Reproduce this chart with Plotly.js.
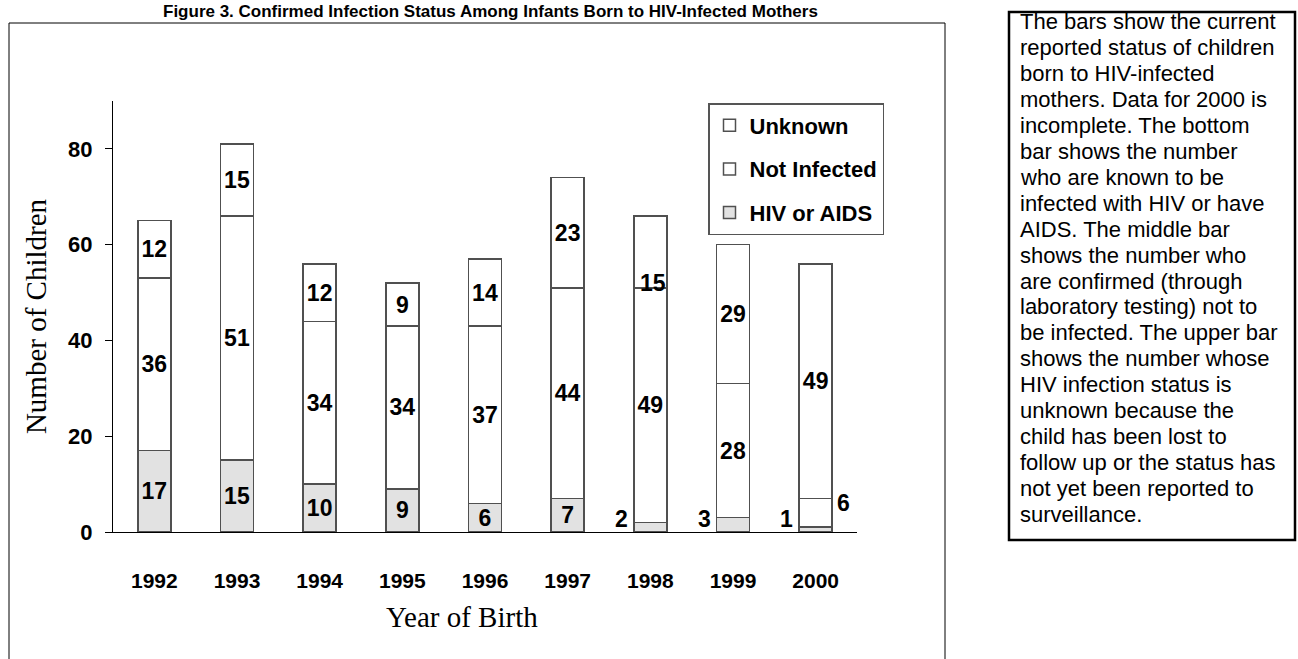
<!DOCTYPE html>
<html>
<head>
<meta charset="utf-8">
<script src="https://cdn.plot.ly/plotly-3.0.1.min.js"></script>
<style>html,body{margin:0;padding:0;background:#fff;}#chart{width:1298px;height:659px;}</style>
</head>
<body>
<div id="chart"></div>
<script>
// ---- data ----
const years = ['1992','1993','1994','1995','1996','1997','1998','1999','2000'];
const hivAids = [17, 15, 10, 9, 6, 7, 2, 3, 1];
const notInfected = [36, 51, 34, 34, 37, 44, 49, 28, 6];
const unknown = [12, 15, 12, 9, 14, 23, 15, 29, 49];
const yTicks = [0, 20, 40, 60, 80];
const titleText = 'Figure 3. Confirmed Infection Status Among Infants Born to HIV-Infected Mothers';
const xTitle = 'Year of Birth';
const yTitle = 'Number of Children';
const noteLines = [
  'The bars show the current',
  'reported status of children',
  'born to HIV-infected',
  'mothers. Data for 2000 is',
  'incomplete. The bottom',
  'bar shows the number',
  'who are known to be',
  'infected with HIV or have',
  'AIDS. The middle bar',
  'shows the number who',
  'are confirmed (through',
  'laboratory testing) not to',
  'be infected. The upper bar',
  'shows the number whose',
  'HIV infection status is',
  'unknown because the',
  'child has been lost to',
  'follow up or the status has',
  'not yet been reported to',
  'surveillance.'
];

// ---- layout helpers ----
const W = 1298, H = 659;
const PX = p => p / W;
const PY = p => 1 - p / H;
const SANS = 'Liberation Sans, Arial, sans-serif';
const SERIF = 'Liberation Serif, Times New Roman, serif';
const lineStyle = {color: '#505050', width: 1.5};

// which labels are drawn outside their segment
const hivOutside = [false,false,false,false,false,false,true,true,true];
const niOutside = [false,false,false,false,false,false,false,false,true];
const unkShifted = [false,false,false,false,false,false,true,false,false];

function txt(vals, mask) { return vals.map((v, i) => mask[i] ? '' : String(v)); }

const barFont = {family: SANS, size: 23, color: '#000', weight: 'bold'};
const common = {
  type: 'bar', x: years, width: 0.4,
  textposition: 'inside', insidetextanchor: 'middle', textangle: 0,
  textfont: barFont, hoverinfo: 'skip', cliponaxis: false
};

const traces = [
  Object.assign({}, common, {name: 'HIV or AIDS', y: hivAids, text: txt(hivAids, hivOutside),
    marker: {color: '#e2e2e2', line: lineStyle}, legendgroup: 'a', legendrank: 3}),
  Object.assign({}, common, {name: 'Not Infected', y: notInfected, text: txt(notInfected, niOutside),
    marker: {color: '#ffffff', line: lineStyle}, legendgroup: 'b', legendrank: 2}),
  Object.assign({}, common, {name: 'Unknown', y: unknown, text: txt(unknown, unkShifted),
    marker: {color: '#ffffff', line: lineStyle}, legendgroup: 'c', legendrank: 1})
];

const annotations = [];
years.forEach((yr, i) => {
  if (hivOutside[i]) annotations.push({x: i, y: 0, xref: 'x', yref: 'y', text: String(hivAids[i]),
    showarrow: false, xanchor: 'center', yanchor: 'bottom', xshift: -29, yshift: -2, font: barFont});
  if (niOutside[i]) annotations.push({x: i, y: hivAids[i] + notInfected[i], xref: 'x', yref: 'y',
    text: String(notInfected[i]), showarrow: false, xanchor: 'center', yanchor: 'middle',
    xshift: 28, yshift: -5, font: barFont});
  if (unkShifted[i]) annotations.push({x: i, y: hivAids[i] + notInfected[i], xref: 'x', yref: 'y',
    text: String(unknown[i]), showarrow: false, xanchor: 'center', yanchor: 'middle',
    xshift: 3, yshift: 5, font: barFont});
});

// title at the very top of the page
annotations.push({xref: 'paper', yref: 'paper', x: PX(490), y: PY(11.5), text: titleText, showarrow: false,
  xanchor: 'center', yanchor: 'middle', font: {family: SANS, size: 17, color: '#000', weight: 'bold'}});

// x-axis title
annotations.push({xref: 'paper', yref: 'paper', x: PX(462), y: PY(617), text: xTitle, showarrow: false,
  xanchor: 'center', yanchor: 'middle', font: {family: SERIF, size: 29, color: '#000'}});

// note lines
noteLines.forEach((t, i) => {
  annotations.push({xref: 'paper', yref: 'paper', x: PX(1018), y: PY(22 + i * 25.9), text: t,
    showarrow: false, xanchor: 'left', yanchor: 'middle', align: 'left',
    font: {family: SANS, size: 22, color: '#000'}});
});

const shapes = [
  {type: 'rect', xref: 'paper', yref: 'paper', x0: PX(9), x1: PX(945), y0: PY(700), y1: PY(23),
    line: {color: '#000', width: 1}, fillcolor: 'rgba(0,0,0,0)', layer: 'below'},
  {type: 'rect', xref: 'paper', yref: 'paper', x0: PX(1009), x1: PX(1295), y0: PY(540), y1: PY(12),
    line: {color: '#000', width: 2.5}, fillcolor: 'rgba(0,0,0,0)', layer: 'below'}
];

const layout = {
  width: W, height: H,
  margin: {l: 0, r: 0, t: 0, b: 0, pad: 0},
  paper_bgcolor: '#fff', plot_bgcolor: 'rgba(0,0,0,0)',
  barmode: 'stack',
  showlegend: true,
  legend: {x: PX(708), y: PY(103), xanchor: 'left', yanchor: 'top', traceorder: 'grouped',
    tracegroupgap: 12, bgcolor: '#fff', bordercolor: '#555', borderwidth: 1.5,
    font: {family: SANS, size: 22, color: '#000', weight: 'bold'}, itemwidth: 30},
  uniformtext: {mode: 'show', minsize: 23},
  xaxis: {domain: [PX(113), PX(857)], range: [-0.5, 8.5], type: 'category', automargin: false,
    showline: true, linecolor: '#000', linewidth: 1.2, ticks: '', showgrid: false, zeroline: false,
    ticklabelstandoff: 30, tickfont: {family: SANS, size: 21, color: '#000', weight: 'bold'}},
  yaxis: {domain: [PY(532), PY(101)], range: [0, 90], automargin: false,
    showline: true, linecolor: '#000', linewidth: 1.2, ticks: 'outside', ticklen: 7, tickcolor: '#000',
    tickvals: yTicks, ticktext: yTicks.map(String), showgrid: false, zeroline: false,
    ticklabelstandoff: 8, tickfont: {family: SANS, size: 22, color: '#000', weight: 'bold'},
    title: {text: yTitle, standoff: 12, font: {family: SERIF, size: 29, color: '#000'}}},
  annotations: annotations,
  shapes: shapes
};

Plotly.newPlot('chart', traces, layout, {displayModeBar: false, staticPlot: true});
</script>
</body>
</html>
